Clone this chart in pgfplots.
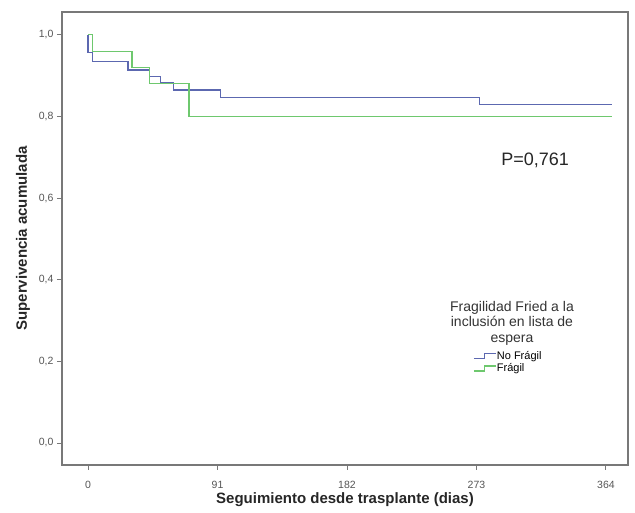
\documentclass[border=0pt]{standalone}
\usepackage{fontspec}
\setmainfont{Liberation Sans}
\usepackage{pgfplots}
\pgfplotsset{compat=1.18}
\definecolor{kmblue}{RGB}{92,104,176}
\definecolor{kmgreen}{RGB}{110,200,110}
\definecolor{framegray}{RGB}{120,120,120}
\definecolor{ticktext}{RGB}{85,85,85}

\begin{document}
\begin{tikzpicture}
\path[use as bounding box] (-62pt,-48pt) rectangle (573pt,465pt);
\begin{axis}[
    at={(0pt,0pt)}, anchor=south west,
    scale only axis, width=566pt, height=453pt,
    xmin=-18.3, xmax=379.5, ymin=-0.054, ymax=1.056,
    xtick={0,91,182,273,364},
    ytick={0,0.2,0.4,0.6,0.8,1.0},
    tick pos=left, tick align=outside,
    major tick length=5pt,
    axis line style={framegray, line width=1.2pt},
    every tick/.style={framegray, line width=0.9pt},
    /pgf/number format/assume math mode=true,
    yticklabel style={/pgf/number format/.cd, fixed, fixed zerofill, precision=1, use comma},
    ticklabel style={font=\fontsize{10.5}{11}\selectfont, text=ticktext},
    xticklabel style={yshift=-8pt},
    xlabel={\textbf{Seguimiento desde trasplante (dias)}},
    ylabel={\textbf{Supervivencia acumulada}},
    label style={font=\fontsize{15}{17}\selectfont, text=black!85},
    xlabel style={at={(axis description cs:0.5,0)}, anchor=center, yshift=-35pt},
    ylabel style={at={(axis description cs:-0.069,0.5)}, anchor=center},
    clip=false,
    legend image code/.code={
        \draw[#1] (0pt,-2.5pt) -- (11pt,-2.5pt) -- (11pt,2.5pt) -- (22pt,2.5pt);},
    legend style={at={(0.726,0.252)}, anchor=north west, draw=none, fill=none,
        font=\fontsize{11}{12}\selectfont, inner sep=0pt,
        nodes={inner sep=0.5pt}, row sep=1.5pt},
    legend cell align=left,
]
% No Fragil
\addplot[const plot, color=kmblue, line width=1.3pt] coordinates {
 (0,1.0) (0,0.956) (3,0.935) (28,0.914) (43,0.898) (51,0.882) (60,0.865)
 (93,0.847) (275,0.830) (368,0.830)};
\addlegendentry{No Frágil}
% Fragil
\addplot[const plot, color=kmgreen, line width=1.3pt] coordinates {
 (0,1.0) (3,0.96) (31,0.92) (43,0.88) (71,0.80) (368,0.80)};
\addlegendentry{Frágil}

\node[align=center, font=\fontsize{14}{15.5}\selectfont, text=black!80]
  at (rel axis cs:0.795,0.313) {Fragilidad Fried a la\\inclusión en lista de\\espera};
\node[font=\fontsize{18}{20}\selectfont, text=black!85]
  at (rel axis cs:0.836,0.673) {P=0,761};
\end{axis}
\end{tikzpicture}
\end{document}
